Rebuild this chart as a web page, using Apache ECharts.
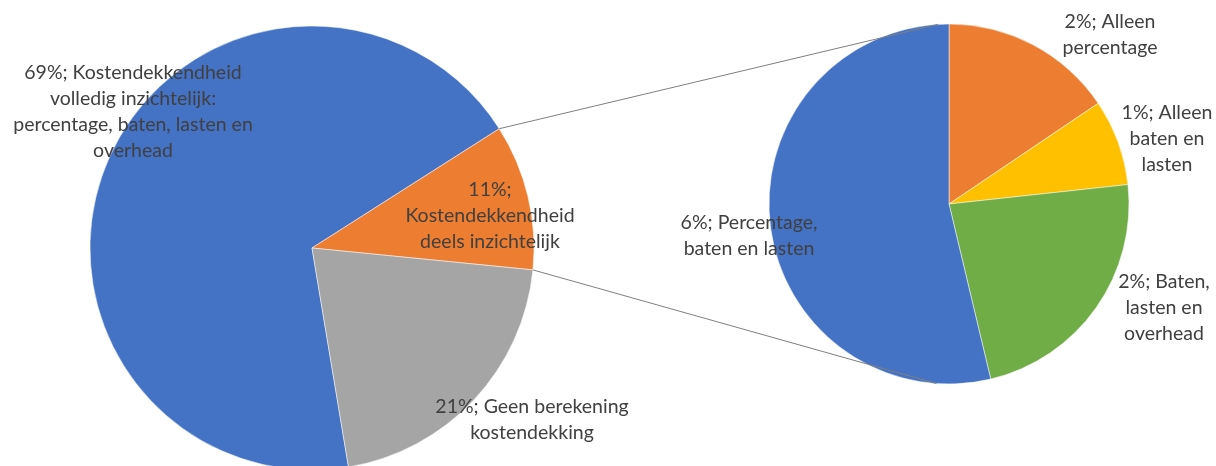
<!DOCTYPE html>
<html>
<head>
<meta charset="utf-8">
<script src="https://cdn.jsdelivr.net/npm/echarts@6/dist/echarts.min.js"></script>
<style>
  html, body { margin: 0; padding: 0; background: #fff; }
  #chart { width: 1216px; height: 466px; }
</style>
</head>
<body>
<div id="chart"></div>
<script>
  // hoofdcirkel
  var mainNames = [
    'Kostendekkendheid volledig inzichtelijk: percentage, baten, lasten en overhead',
    'Kostendekkendheid deels inzichtelijk',
    'Geen berekening kostendekking'
  ];
  var mainValues = [68.6, 10.6, 20.8];
  var mainLabels = [
    '69%; Kostendekkendheid\nvolledig inzichtelijk:\npercentage, baten, lasten en\noverhead',
    '11%;\nKostendekkendheid\ndeels inzichtelijk',
    '21%; Geen berekening\nkostendekking'
  ];

  // uitsplitsing van "deels inzichtelijk"
  var subNames = ['Alleen percentage', 'Alleen baten en lasten', 'Baten, lasten en overhead', 'Percentage, baten en lasten'];
  var subValues = [1.65, 0.82, 2.44, 5.7];
  var subLabels = [
    '2%; Alleen\npercentage',
    '1%; Alleen\nbaten en\nlasten',
    '2%; Baten,\nlasten en\noverhead',
    '6%; Percentage,\nbaten en lasten'
  ];

  var mainColors = ['#4472C4', '#ED7D31', '#A5A5A5'];
  var subColors = ['#ED7D31', '#FFC000', '#70AD47', '#4472C4'];

  // geometrie
  var mainCenter = [312, 248], mainR = 222;
  var subCenter = [949, 204], subR = 180;
  var splitStart = 32.5; // hoek waar het oranje segment begint

  var mainSum = mainValues.reduce(function (a, b) { return a + b; }, 0);
  var mainStart = splitStart + mainValues[0] / mainSum * 360;
  var splitEnd = splitStart - mainValues[1] / mainSum * 360;

  var mainLabelPos = [[133, 112], [490, 216], [532, 420]];
  var subLabelPos = [[1110, 35], [1167, 139], [1164, 308], [749, 236]];

  function pt(c, r, deg) {
    var a = deg * Math.PI / 180;
    return [c[0] + r * Math.cos(a), c[1] - r * Math.sin(a)];
  }

  var textStyle = {
    color: '#404040',
    fontFamily: 'Lato',
    fontSize: 19.5,
    lineHeight: 26,
    align: 'center'
  };

  var myChart = echarts.init(document.getElementById('chart'));

  var p1 = pt(mainCenter, mainR, splitStart);
  var p2 = pt(mainCenter, mainR, splitEnd);
  var q1 = pt(subCenter, subR, 93.5);
  var q2 = pt(subCenter, subR, -94);

  var option = {
    backgroundColor: '#fff',
    animation: false,
    graphic: {
      z: 100,
      elements: [
        { type: 'line', z: 100, shape: { x1: p1[0], y1: p1[1], x2: q1[0], y2: q1[1] }, style: { stroke: '#808080', lineWidth: 1 } },
        { type: 'line', z: 100, shape: { x1: p2[0], y1: p2[1], x2: q2[0], y2: q2[1] }, style: { stroke: '#808080', lineWidth: 1 } }
      ]
    },
    series: [
      {
        type: 'pie',
        center: mainCenter,
        radius: mainR,
        startAngle: mainStart,
        clockwise: true,
        z: 1,
        itemStyle: { borderColor: '#fff', borderWidth: 0.5 },
        label: Object.assign({ show: true, position: 'inside', formatter: function (p) { return mainLabels[p.dataIndex]; } }, textStyle),
        labelLine: { show: false },
        labelLayout: function (p) {
          var pos = mainLabelPos[p.dataIndex];
          return { x: pos[0], y: pos[1], align: 'center', verticalAlign: 'middle' };
        },
        emphasis: { disabled: true },
        data: mainValues.map(function (v, i) {
          return { name: mainNames[i], value: v, itemStyle: { color: mainColors[i] } };
        })
      },
      {
        type: 'pie',
        center: subCenter,
        radius: subR,
        startAngle: 90,
        clockwise: true,
        z: 1,
        itemStyle: { borderColor: '#fff', borderWidth: 0.5 },
        label: Object.assign({ show: true, position: 'inside', formatter: function (p) { return subLabels[p.dataIndex]; } }, textStyle),
        labelLine: { show: false },
        labelLayout: function (p) {
          var pos = subLabelPos[p.dataIndex];
          return { x: pos[0], y: pos[1], align: 'center', verticalAlign: 'middle' };
        },
        emphasis: { disabled: true },
        data: subValues.map(function (v, i) {
          return { name: subNames[i], value: v, itemStyle: { color: subColors[i] } };
        })
      }
    ]
  };

  myChart.setOption(option);
</script>
</body>
</html>
